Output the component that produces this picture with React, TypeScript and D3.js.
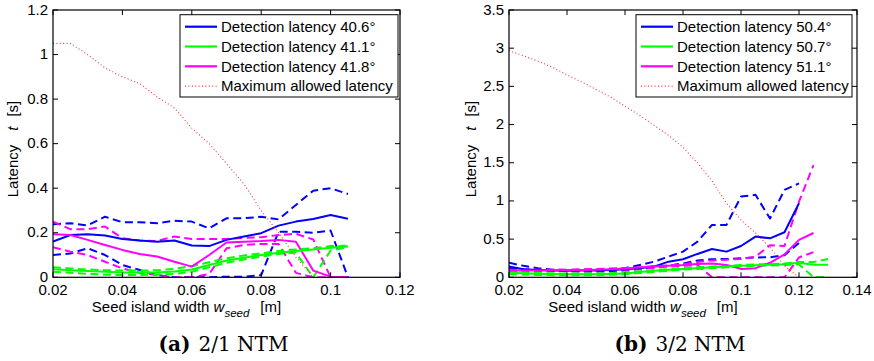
import * as d3 from "d3";

// ---------- data: panel (a) 2/1 NTM ----------
const xLeft = [0.02, 0.025, 0.03, 0.035, 0.04, 0.045, 0.05, 0.055, 0.06, 0.065, 0.07, 0.075, 0.08, 0.085, 0.09, 0.095, 0.1, 0.105];

const blueMeanL = [0.16, 0.19, 0.193, 0.188, 0.172, 0.165, 0.16, 0.165, 0.143, 0.14, 0.168, 0.183, 0.198, 0.232, 0.25, 0.262, 0.28, 0.263];
const blueUpL = [0.238, 0.243, 0.233, 0.272, 0.247, 0.247, 0.243, 0.254, 0.25, 0.22, 0.265, 0.265, 0.272, 0.26, 0.325, 0.389, 0.4, 0.374];
const blueLowL = [0.1, 0.107, 0.13, 0.1, 0.055, 0.033, 0.01, 0, 0, 0, 0.003, 0.003, 0.01, 0.205, 0.205, 0.2, 0.21, 0];

const greenMeanL = [0.036, 0.032, 0.028, 0.025, 0.022, 0.021, 0.022, 0.026, 0.035, 0.055, 0.075, 0.088, 0.1, 0.11, 0.118, 0.125, 0.133, 0.138];
const greenUpL = [0.045, 0.04, 0.035, 0.032, 0.03, 0.03, 0.032, 0.038, 0.05, 0.068, 0.085, 0.098, 0.108, 0.118, 0.125, 0.13, 0.14, 0.142];
const greenLowL = [0.025, 0.02, 0.015, 0.012, 0.01, 0.01, 0.012, 0.015, 0.025, 0.045, 0.065, 0.08, 0.093, 0.105, 0.11, 0, 0.12, 0.135];

const magentaMeanL = [0.193, 0.19, 0.168, 0.145, 0.123, 0.105, 0.093, 0.07, 0.048, 0.1, 0.156, 0.16, 0.163, 0.168, 0.16, 0.03, 0.003, 0];
const magentaUpL = [0.25, 0.216, 0.216, 0.228, 0.175, 0.165, 0.163, 0.183, 0.172, 0.172, 0.172, 0.177, 0.18, 0.19, 0.195, 0.17, 0, 0];
const magentaLowL = [0.135, 0.115, 0.1, 0.07, 0.04, 0.02, 0.01, 0, 0, 0.015, 0.13, 0.145, 0.15, 0.15, 0.02, 0, 0, 0];

const maxLatencyL = [1.05, 1.05, 1.0, 0.94, 0.9, 0.87, 0.81, 0.76, 0.67, 0.6, 0.51, 0.42, 0.3, 0.2, 0.09, 0];

// ---------- data: panel (b) 3/2 NTM ----------
const xRight = [0.02, 0.025, 0.03, 0.035, 0.04, 0.045, 0.05, 0.055, 0.06, 0.065, 0.07, 0.075, 0.08, 0.085, 0.09, 0.095, 0.1, 0.105, 0.11, 0.115, 0.12, 0.125, 0.13];

const blueMeanR = [0.14, 0.105, 0.096, 0.09, 0.087, 0.088, 0.09, 0.095, 0.105, 0.118, 0.14, 0.205, 0.236, 0.306, 0.37, 0.336, 0.41, 0.533, 0.51, 0.59, 0.97];
const blueUpR = [0.19, 0.15, 0.12, 0.1, 0.095, 0.092, 0.09, 0.1, 0.12, 0.16, 0.205, 0.27, 0.336, 0.467, 0.686, 0.686, 1.057, 1.08, 0.77, 1.144, 1.23];
const blueLowR = [0.12, 0.105, 0.095, 0.088, 0.08, 0.077, 0.075, 0.08, 0.09, 0.11, 0.13, 0.155, 0.18, 0.22, 0.236, 0.24, 0.25, 0.26, 0.262, 0.29, 0.45];

const greenMeanR = [0.06, 0.052, 0.045, 0.042, 0.04, 0.04, 0.04, 0.043, 0.05, 0.07, 0.085, 0.098, 0.11, 0.12, 0.13, 0.14, 0.15, 0.158, 0.165, 0.17, 0.19, 0.165, 0.165];
const greenUpR = [0.07, 0.062, 0.055, 0.052, 0.05, 0.05, 0.05, 0.055, 0.065, 0.08, 0.095, 0.108, 0.12, 0.13, 0.14, 0.15, 0.16, 0.168, 0.175, 0.18, 0.2, 0.2, 0.24];
const greenLowR = [0.04, 0.035, 0.03, 0.028, 0.027, 0.027, 0.028, 0.032, 0.038, 0.055, 0.07, 0.085, 0.1, 0.11, 0.12, 0.13, 0.14, 0.15, 0.155, 0.16, 0.17, 0, 0];

const magentaMeanR = [0.087, 0.088, 0.09, 0.092, 0.095, 0.097, 0.1, 0.107, 0.115, 0.127, 0.14, 0.15, 0.16, 0.175, 0.18, 0.16, 0.11, 0.12, 0.19, 0.3, 0.49, 0.58];
const magentaUpR = [0.1, 0.1, 0.1, 0.1, 0.1, 0.105, 0.11, 0.115, 0.12, 0.13, 0.145, 0.155, 0.17, 0.2, 0.22, 0.23, 0.24, 0.27, 0.42, 0.41, 0.99, 1.47];
const magentaLowR = [0.075, 0.078, 0.08, 0.083, 0.085, 0.088, 0.09, 0.095, 0.1, 0.11, 0.125, 0.14, 0.15, 0.16, 0, 0, 0, 0, 0, 0, 0.26, 0.33];

const maxLatencyR = [2.97, 2.9, 2.83, 2.75, 2.65, 2.56, 2.46, 2.36, 2.24, 2.12, 1.99, 1.86, 1.7, 1.5, 1.26, 0.97, 0.75, 0.58, 0.39, 0.15, 0];

const xTicksL = [0.02, 0.04, 0.06, 0.08, 0.1, 0.12];
const yTicksL = [0, 0.2, 0.4, 0.6, 0.8, 1, 1.2];
const xTicksR = [0.02, 0.04, 0.06, 0.08, 0.1, 0.12, 0.14];
const yTicksR = [0, 0.5, 1, 1.5, 2, 2.5, 3, 3.5];

const anglesL = ["40.6°", "41.1°", "41.8°"];
const anglesR = ["50.4°", "50.7°", "51.1°"];

const BLUE = "#0000ff";
const GREEN = "#00ff00";
const MAGENTA = "#ff00ff";
const RED = "#ff3030";
const SANS = "'Liberation Sans', Arial, sans-serif";
const SERIF = "'DejaVu Serif', serif";

type Series = { vals: number[]; color: string; kind: "solid" | "dash" | "dot" };

type PanelProps = {
  id: string;
  left: number;
  right: number;
  xs: number[];
  xDomain: [number, number];
  yDomain: [number, number];
  xTicks: number[];
  yTicks: number[];
  series: Series[];
  angles: string[];
  legendX: number;
  legendW: number;
  labelX: number;
  caption: [string, string];
};

function Panel(p: PanelProps) {
  const top = 10, bottom = 277.3;
  const x = d3.scaleLinear().domain(p.xDomain).range([p.left, p.right]);
  const y = d3.scaleLinear().domain(p.yDomain).range([bottom, top]);
  const fmt = (v: number) => String(+v.toFixed(3));
  const tick = 5;

  const line = (vals: number[]) =>
    d3.line<number>().x((_, i) => x(p.xs[i])).y(d => y(d))(vals) || "";

  const dashOf = (k: Series["kind"]) => (k === "dash" ? "8,4.5" : k === "dot" ? "1,2.4" : undefined);
  const widthOf = (k: Series["kind"]) => (k === "dot" ? 1.1 : 2);

  // dashed bounds first, then means, then the limit line
  const order = [...p.series].sort((a, b) => {
    const r = { dash: 0, solid: 1, dot: 2 };
    return r[a.kind] - r[b.kind];
  });

  const legendItems = [
    { label: `Detection latency ${p.angles[0]}`, color: BLUE, kind: "solid" as const },
    { label: `Detection latency ${p.angles[1]}`, color: GREEN, kind: "solid" as const },
    { label: `Detection latency ${p.angles[2]}`, color: MAGENTA, kind: "solid" as const },
    { label: "Maximum allowed latency", color: RED, kind: "dot" as const },
  ];
  const midX = (p.left + p.right) / 2;

  return (
    <g>
      <defs>
        <clipPath id={`clip-${p.id}`}>
          <rect x={p.left} y={top} width={p.right - p.left} height={bottom - top} />
        </clipPath>
      </defs>
      <rect x={p.left} y={top} width={p.right - p.left} height={bottom - top} fill="#fff" />
      <g clipPath={`url(#clip-${p.id})`}>
        {order.map((s, i) => (
          <path
            key={i}
            d={line(s.vals)}
            fill="none"
            stroke={s.color}
            strokeWidth={widthOf(s.kind)}
            strokeDasharray={dashOf(s.kind)}
            strokeLinejoin="round"
          />
        ))}
      </g>
      {/* box and ticks */}
      <rect x={p.left} y={top} width={p.right - p.left} height={bottom - top} fill="none" stroke="#000" strokeWidth={1.2} />
      {p.xTicks.map(t => (
        <g key={`xt${t}`}>
          <line x1={x(t)} x2={x(t)} y1={bottom} y2={bottom - tick} stroke="#000" />
          <line x1={x(t)} x2={x(t)} y1={top} y2={top + tick} stroke="#000" />
          <text x={x(t)} y={295} textAnchor="middle" fontFamily={SANS} fontSize={15}>{fmt(t)}</text>
        </g>
      ))}
      {p.yTicks.map(t => (
        <g key={`yt${t}`}>
          <line x1={p.left} x2={p.left + tick} y1={y(t)} y2={y(t)} stroke="#000" />
          <line x1={p.right} x2={p.right - tick} y1={y(t)} y2={y(t)} stroke="#000" />
          <text x={p.left - 5} y={y(t) + 4.5} textAnchor="end" fontFamily={SANS} fontSize={15}>{fmt(t)}</text>
        </g>
      ))}
      {/* y label */}
      <text transform={`translate(${p.labelX},149) rotate(-90)`} textAnchor="middle" fontFamily={SANS} fontSize={15}>
        <tspan>Latency</tspan>
        <tspan dx={14} fontStyle="italic">t</tspan>
        <tspan dx={10}>[s]</tspan>
      </text>
      {/* x label */}
      <text x={midX - 40} y={312} textAnchor="middle" fontFamily={SANS} fontSize={15}>
        <tspan>Seed island width </tspan>
        <tspan fontStyle="italic">w</tspan>
        <tspan fontStyle="italic" fontSize={11.5} dy={5}>seed</tspan>
        <tspan dy={-5} dx={11}>[m]</tspan>
      </text>
      {/* legend */}
      <rect x={p.legendX} y={14.7} width={p.legendW} height={82.3} fill="#fff" stroke="#000" strokeWidth={1} />
      {legendItems.map((it, i) => {
        const ly = 26.7 + i * 19.8;
        return (
          <g key={`lg${i}`}>
            <line
              x1={p.legendX + 5}
              x2={p.legendX + 37}
              y1={ly}
              y2={ly}
              stroke={it.color}
              strokeWidth={it.kind === "dot" ? 1.1 : 2.2}
              strokeDasharray={dashOf(it.kind)}
            />
            <text x={p.legendX + 41} y={ly + 5.3} fontFamily={SANS} fontSize={15}>{it.label}</text>
          </g>
        );
      })}
      {/* caption */}
      <text x={midX - 3} y={351} textAnchor="middle" fontFamily={SERIF} fontSize={20}>
        <tspan fontWeight="bold">{p.caption[0]}</tspan>
        <tspan dx={8}>{p.caption[1]}</tspan>
      </text>
    </g>
  );
}

export default function App() {
  const seriesL: Series[] = [
    { vals: blueUpL, color: BLUE, kind: "dash" },
    { vals: blueLowL, color: BLUE, kind: "dash" },
    { vals: magentaUpL, color: MAGENTA, kind: "dash" },
    { vals: magentaLowL, color: MAGENTA, kind: "dash" },
    { vals: greenUpL, color: GREEN, kind: "dash" },
    { vals: greenLowL, color: GREEN, kind: "dash" },
    { vals: blueMeanL, color: BLUE, kind: "solid" },
    { vals: magentaMeanL, color: MAGENTA, kind: "solid" },
    { vals: greenMeanL, color: GREEN, kind: "solid" },
    { vals: maxLatencyL, color: RED, kind: "dot" },
  ];
  const seriesR: Series[] = [
    { vals: blueUpR, color: BLUE, kind: "dash" },
    { vals: blueLowR, color: BLUE, kind: "dash" },
    { vals: magentaUpR, color: MAGENTA, kind: "dash" },
    { vals: magentaLowR, color: MAGENTA, kind: "dash" },
    { vals: greenUpR, color: GREEN, kind: "dash" },
    { vals: greenLowR, color: GREEN, kind: "dash" },
    { vals: blueMeanR, color: BLUE, kind: "solid" },
    { vals: magentaMeanR, color: MAGENTA, kind: "solid" },
    { vals: greenMeanR, color: GREEN, kind: "solid" },
    { vals: maxLatencyR, color: RED, kind: "dot" },
  ];

  return (
    <svg width={874} height={361} style={{ position: "absolute", left: 0, top: 0, background: "#fff" }}>
      <Panel
        id="a"
        left={53}
        right={400}
        xs={xLeft}
        xDomain={[0.02, 0.12]}
        yDomain={[0, 1.2]}
        xTicks={xTicksL}
        yTicks={yTicksL}
        series={seriesL}
        angles={anglesL}
        legendX={180}
        legendW={218}
        labelX={18}
        caption={["(a)", "2/1 NTM"]}
      />
      <Panel
        id="b"
        left={509}
        right={857}
        xs={xRight}
        xDomain={[0.02, 0.14]}
        yDomain={[0, 3.5]}
        xTicks={xTicksR}
        yTicks={yTicksR}
        series={seriesR}
        angles={anglesR}
        legendX={636}
        legendW={216}
        labelX={476}
        caption={["(b)", "3/2 NTM"]}
      />
    </svg>
  );
}
